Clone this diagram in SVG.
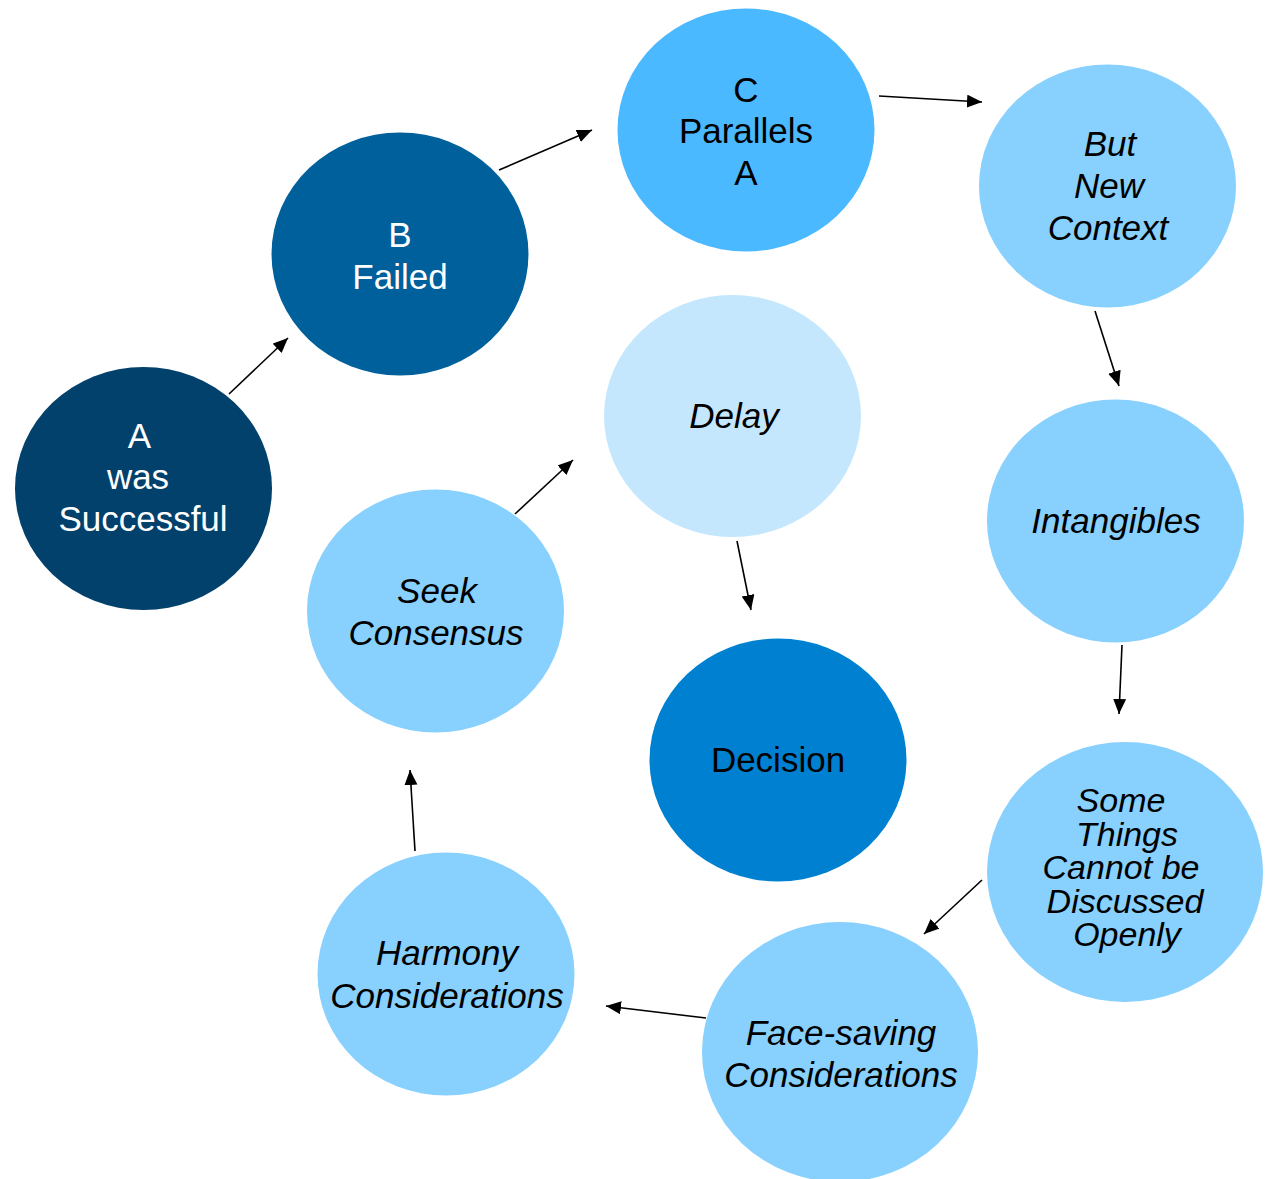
<svg xmlns="http://www.w3.org/2000/svg" width="1268" height="1179" viewBox="0 0 1268 1179">
<style>
.t{font-family:"Liberation Sans",Arial,sans-serif;font-size:35px;text-anchor:middle}
.s{font-size:34px}
.w{fill:#ffffff}
.k{fill:#000000}
.i{font-style:italic}
.c{stroke:#000;stroke-width:1.6;fill:none;marker-end:url(#ah)}
</style>
<defs>
<marker id="ah" markerUnits="userSpaceOnUse" markerWidth="16" markerHeight="14" refX="15" refY="6.5" orient="auto">
<path d="M0,0 L15,6.5 L0,13 Z" fill="#000"/>
</marker>
</defs>
<rect width="1268" height="1179" fill="#fff"/>
<g id="connectors">
<line class="c" x1="229" y1="394" x2="288" y2="338"/>
<line class="c" x1="499" y1="170" x2="592" y2="130"/>
<line class="c" x1="879" y1="96" x2="982" y2="102"/>
<line class="c" x1="1095" y1="311" x2="1119" y2="386"/>
<line class="c" x1="1122" y1="645" x2="1119" y2="714"/>
<line class="c" x1="982" y1="880" x2="924" y2="934"/>
<line class="c" x1="706" y1="1018" x2="606" y2="1006"/>
<line class="c" x1="415" y1="851" x2="410" y2="770"/>
<line class="c" x1="515" y1="514" x2="573" y2="460"/>
<line class="c" x1="737" y1="541" x2="751" y2="610"/>
</g>
<g id="nodeA">
<ellipse cx="143.5" cy="488.5" rx="128.5" ry="121.5" fill="#02416B"/>
<text class="t w" x="139.5" y="448">A</text>
<text class="t w" x="138" y="489">was</text>
<text class="t w" x="143" y="531">Successful</text>
</g>
<g id="nodeB">
<ellipse cx="400" cy="254" rx="128.5" ry="121.5" fill="#00609C"/>
<text class="t w" x="400" y="247">B</text>
<text class="t w" x="400" y="289">Failed</text>
</g>
<g id="nodeC">
<ellipse cx="746" cy="130" rx="128.5" ry="121.5" fill="#4BB9FF"/>
<text class="t k" x="746" y="102">C</text>
<text class="t k" x="746" y="143">Parallels</text>
<text class="t k" x="746" y="185">A</text>
</g>
<g id="nodeContext">
<ellipse cx="1107.5" cy="186" rx="128.5" ry="121.5" fill="#88D0FD"/>
<text class="t k i" x="1110" y="156">But</text>
<text class="t k i" x="1109" y="198">New</text>
<text class="t k i" x="1108" y="240">Context</text>
</g>
<g id="nodeDelay">
<ellipse cx="732.5" cy="416" rx="128.5" ry="121" fill="#C5E7FD"/>
<text class="t k i" x="734" y="428">Delay</text>
</g>
<g id="nodeIntangibles">
<ellipse cx="1115.5" cy="521" rx="128.5" ry="121.5" fill="#88D0FD"/>
<text class="t k i" x="1116" y="533">Intangibles</text>
</g>
<g id="nodeSeek">
<ellipse cx="435.5" cy="611" rx="128.5" ry="121.5" fill="#88D0FD"/>
<text class="t k i" x="437" y="603">Seek</text>
<text class="t k i" x="436" y="645">Consensus</text>
</g>
<g id="nodeDecision">
<ellipse cx="778" cy="760" rx="128.5" ry="121.5" fill="#0080D1"/>
<text class="t k" x="778" y="772">Decision</text>
</g>
<g id="nodeSome">
<ellipse cx="1125" cy="872" rx="138" ry="130" fill="#88D0FD"/>
<text class="t s k i" x="1121" y="812">Some</text>
<text class="t s k i" x="1127" y="846">Things</text>
<text class="t s k i" x="1121" y="879">Cannot be</text>
<text class="t s k i" x="1125" y="913">Discussed</text>
<text class="t s k i" x="1127" y="946">Openly</text>
</g>
<g id="nodeFace">
<ellipse cx="840" cy="1052" rx="138" ry="130" fill="#88D0FD"/>
<text class="t k i" x="841" y="1045">Face-saving</text>
<text class="t k i" x="841" y="1087">Considerations</text>
</g>
<g id="nodeHarmony">
<ellipse cx="446" cy="974" rx="128.5" ry="121.5" fill="#88D0FD"/>
<text class="t k i" x="447" y="965">Harmony</text>
<text class="t k i" x="447" y="1008">Considerations</text>
</g>
</svg>
